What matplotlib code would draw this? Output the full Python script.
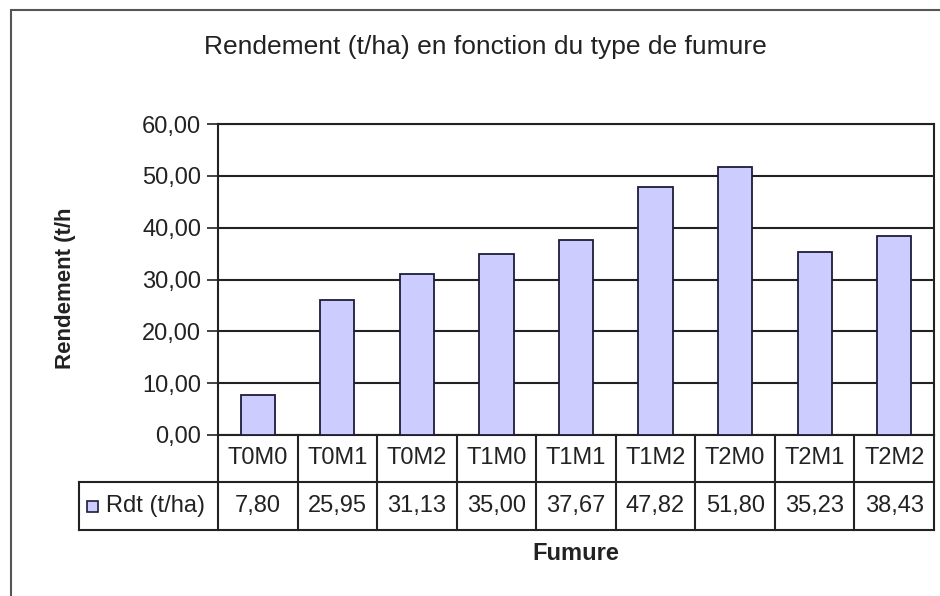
import matplotlib
matplotlib.use("Agg")
import matplotlib.pyplot as plt
import numpy as np
from matplotlib.patches import Rectangle

categories = ["T0M0", "T0M1", "T0M2", "T1M0", "T1M1", "T1M2", "T2M0", "T2M1", "T2M2"]
rdt = [7.80, 25.95, 31.13, 35.00, 37.67, 47.82, 51.80, 35.23, 38.43]
series_name = "Rdt (t/ha)"
yticks = [0, 10, 20, 30, 40, 50, 60]

plt.rcParams["font.family"] = ["Liberation Sans", "DejaVu Sans"]

W, H = 940, 596
fig = plt.figure(figsize=(W / 100, H / 100), dpi=100)

def fx(px):
    return px / W

def fy(py):
    return 1 - py / H

# outer chart frame (runs off the right and bottom edges)
fig.patches.append(Rectangle((fx(11), fy(640)), fx(1000), 630 / H, transform=fig.transFigure,
                             fill=False, edgecolor="#555555", linewidth=1.5))

left, right, top, bottom = 218, 934, 124, 435
ax = fig.add_axes([fx(left), fy(bottom), fx(right - left), (bottom - top) / H])

bar_color = "#ccccff"
edge_color = "#1c1c3c"
txt = "#222222"
fs = 17
x = np.arange(len(categories))
ax.bar(x, rdt, width=0.43, color=bar_color, edgecolor=edge_color, linewidth=1.3, zorder=3)

ax.set_xlim(-0.5, len(categories) - 0.5)
ax.set_ylim(0, 60)
ax.set_yticks(yticks)
ax.set_yticklabels([f"{v:.2f}".replace(".", ",") for v in yticks], fontsize=fs)
ax.tick_params(axis="y", direction="out", length=8, width=1.2, pad=4, colors=txt,
               labelcolor=txt)
ax.set_xticks([])
ax.yaxis.grid(True, color=txt, linewidth=1.5, zorder=1)
for s in ax.spines.values():
    s.set_color(txt)
    s.set_linewidth(1.5)

# data table under the axis
h1 = (482 - bottom) / (bottom - top)
h2 = (530 - 482) / (bottom - top)
xl = (79 - left) / (right - left)
n = len(categories)
lk = dict(transform=ax.transAxes, clip_on=False, color=txt, linewidth=1.5)
ax.plot([0, 1], [-h1, -h1], **lk)
ax.plot([xl, 1], [-h1 - h2, -h1 - h2], **lk)
ax.plot([xl, 0], [-h1, -h1], **lk)
ax.plot([xl, xl], [-h1, -h1 - h2], **lk)
for i in range(n + 1):
    ax.plot([i / n, i / n], [0, -h1 - h2], **lk)
for i, (c, v) in enumerate(zip(categories, rdt)):
    cx = (i + 0.5) / n
    ax.text(cx, -h1 / 2, c, transform=ax.transAxes, ha="center", va="center",
            fontsize=fs, color=txt)
    ax.text(cx, -h1 - h2 / 2, f"{v:.2f}".replace(".", ","), transform=ax.transAxes,
            ha="center", va="center", fontsize=fs, color=txt)

# legend key in the row header
key_x = (87 - left) / (right - left)
key_w = 11 / (right - left)
key_h = 11 / (bottom - top)
ax.add_patch(Rectangle((key_x, -h1 - h2 / 2 - key_h / 2), key_w, key_h, transform=ax.transAxes,
                       clip_on=False, facecolor=bar_color, edgecolor=edge_color, linewidth=1.2))
ax.text((106 - left) / (right - left), -h1 - h2 / 2, series_name, transform=ax.transAxes,
        ha="left", va="center", fontsize=fs, color=txt)

fig.text(fx(485), fy(47), "Rendement (t/ha) en fonction du type de fumure", ha="center",
         va="center", fontsize=19, color=txt)
fig.text(fx(66), fy(288), "Rendement (t/h", rotation=90, ha="center", va="center",
         fontsize=16, fontweight="bold", color=txt)
fig.text(fx(576), fy(553), "Fumure", ha="center", va="center", fontsize=17,
         fontweight="bold", color=txt)

fig.savefig("out.png", dpi=100, facecolor="white")
